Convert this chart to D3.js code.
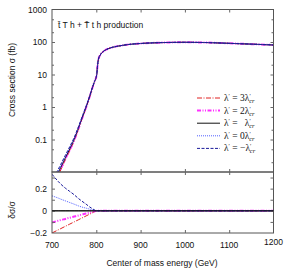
<!DOCTYPE html>
<html>
<head>
<meta charset="utf-8">
<script src="https://cdn.jsdelivr.net/npm/d3@7"></script>
<style>
  body { margin: 0; background: #fff; }
  text { font-family: "Liberation Sans", Arial, sans-serif; fill: #111; }
  .leg text { font-family: "Liberation Serif", "DejaVu Serif", serif; }
</style>
</head>
<body>
<svg id="chart" width="289" height="275"></svg>
<script>
// energie (GeV) commune aux deux panneaux
const energy = [700, 714, 720, 730, 740, 750, 760, 770, 777, 785, 790, 795, 801, 803, 805, 809, 815, 822, 832, 850, 870, 900, 950, 1000, 1050, 1100, 1150, 1200];
// section efficace pour lambda' = lambda'cr (fb)
const sigmaCr = [0.004, 0.0095, 0.014, 0.027, 0.051, 0.1, 0.23, 0.55, 1.0, 2.1, 3.5, 5.6, 10, 20, 30, 40, 50, 58, 66, 75, 83, 90, 96, 98, 96, 91, 86, 81];
// delta sigma / sigma
const d3cr  = [-0.2, -0.172, -0.16, -0.14, -0.12, -0.1, -0.08, -0.06, -0.046, -0.03, -0.02, -0.01, 0, 0, 0, 0, 0, 0, 0, 0, 0, 0, 0, 0, 0, 0, 0, 0];
const d2cr  = [-0.105, -0.09, -0.083, -0.073, -0.062, -0.052, -0.042, -0.031, -0.024, -0.016, -0.011, -0.005, 0, 0, 0, 0, 0, 0, 0, 0, 0, 0, 0, 0, 0, 0, 0, 0];
const d1cr  = [0, 0, 0, 0, 0, 0, 0, 0, 0, 0, 0, 0, 0, 0, 0, 0, 0, 0, 0, 0, 0, 0, 0, 0, 0, 0, 0, 0];
const d0cr  = [0.135, 0.115, 0.105, 0.09, 0.075, 0.06, 0.044, 0.031, 0.024, 0.015, 0.01, 0.005, 0, 0, 0, 0, 0, 0, 0, 0, 0, 0, 0, 0, 0, 0, 0, 0];
const dm1cr = [0.33, 0.265, 0.24, 0.205, 0.175, 0.145, 0.11, 0.08, 0.06, 0.035, 0.022, 0.01, 0, 0, 0, 0, 0, 0, 0, 0, 0, 0, 0, 0, 0, 0, 0, 0];

const xTicks = [700, 800, 900, 1000, 1100, 1200];
const yTopTicks = [0.1, 1, 10, 100, 1000];
const yTopLabels = ["0.1", "1", "10", "100", "1000"];
const yBotTicks = [-0.2, 0, 0.2];
const yBotLabels = ["\u22120.2", "0", "0.2"];

const series = [
  { coef: "3", delta: d3cr, color: "#e02020", dash: "5,1.5,1,1.5", w: 1 },
  { coef: "2", delta: d2cr, color: "#ff30ff", dash: "4,1.5,1,1.5,1,1.5", w: 2 },
  { coef: "\u2002", delta: d1cr, color: "#111", dash: null, w: 1 },
  { coef: "0", delta: d0cr, color: "#5060ff", dash: "1,1", w: 1 },
  { coef: "\u2212", delta: dm1cr, color: "#1a1a9a", dash: "3,1.5", w: 1 }
];

const svg = d3.select('#chart');
const L = 52, R = 273.5;
const topT = 9.5, mid = 172, bot = 233;

const x = d3.scaleLinear().domain([700, 1200]).range([L, R]);
const yTop = d3.scaleLog().domain([0.01, 1000]).range([mid, topT]);
const yBot = d3.scaleLinear().domain([-0.2, 0.35]).range([bot, mid]);

svg.append('defs').append('clipPath').attr('id', 'cTop')
  .append('rect').attr('x', L).attr('y', topT).attr('width', R - L).attr('height', mid - topT);
svg.select('defs').append('clipPath').attr('id', 'cBot')
  .append('rect').attr('x', L).attr('y', mid).attr('width', R - L).attr('height', bot - mid);

// courbes du panneau du haut
const gTop = svg.append('g').attr('clip-path', 'url(#cTop)');
series.forEach(s => {
  const pts = energy.map((e, i) => ({ x: e, y: sigmaCr[i] * (1 + s.delta[i]) }));
  gTop.append('path')
    .attr('d', d3.line().x(d => x(d.x)).y(d => yTop(d.y)).curve(d3.curveMonotoneX)(pts))
    .attr('fill', 'none').attr('stroke', s.color).attr('stroke-width', s.w)
    .attr('stroke-dasharray', s.dash);
});

// courbes du panneau du bas
const gBot = svg.append('g').attr('clip-path', 'url(#cBot)');
series.forEach(s => {
  const pts = energy.map((e, i) => ({ x: e, y: s.delta[i] }));
  gBot.append('path')
    .attr('d', d3.line().x(d => x(d.x)).y(d => yBot(d.y)).curve(d3.curveMonotoneX)(pts))
    .attr('fill', 'none').attr('stroke', s.color).attr('stroke-width', s.w)
    .attr('stroke-dasharray', s.dash);
});

// axes (ticks vers l'interieur)
const tk = 3;
function frame(y0, y1) {
  svg.append('rect').attr('x', L).attr('y', y0).attr('width', R - L).attr('height', y1 - y0)
    .attr('fill', 'none').attr('stroke', '#555').attr('stroke-width', 1);
}
frame(topT, mid);
frame(mid, bot);

const axStyle = g => g.call(g => g.select('.domain').remove())
  .call(g => g.selectAll('line').attr('stroke', '#666'))
  .call(g => g.selectAll('text').remove());

[[mid, d3.axisTop], [topT, d3.axisBottom], [bot, d3.axisTop], [mid, d3.axisBottom]].forEach(([yy, ax]) => {
  svg.append('g').attr('transform', `translate(0,${yy})`)
    .call(ax(x).tickValues(xTicks.slice(1, -1)).tickSize(tk)).call(axStyle);
});

// log ticks: decades et mineurs
const minorTop = [];
[0.01, 0.1, 1, 10, 100].forEach(d => [2, 5].forEach(m => minorTop.push(d * m)));
[[L, d3.axisRight], [R, d3.axisLeft]].forEach(([xx, ax]) => {
  svg.append('g').attr('transform', `translate(${xx},0)`)
    .call(ax(yTop).tickValues(yTopTicks.slice(0, -1)).tickSize(tk)).call(axStyle);
  svg.append('g').attr('transform', `translate(${xx},0)`)
    .call(ax(yTop).tickValues(minorTop).tickSize(2)).call(axStyle);
  svg.append('g').attr('transform', `translate(${xx},0)`)
    .call(ax(yBot).tickValues([-0.1, 0, 0.1, 0.2, 0.3]).tickSize(tk)).call(axStyle);
});

// ligne zero
svg.append('line').attr('x1', L).attr('x2', R).attr('y1', yBot(0)).attr('y2', yBot(0))
  .attr('stroke', '#111').attr('stroke-width', 1);

// etiquettes des ticks
const fs = 8.5;
svg.append('g').selectAll('text').data(yTopTicks).join('text')
  .attr('x', L - 5).attr('y', d => yTop(d) + 3).attr('text-anchor', 'end')
  .attr('font-size', fs).text((d, i) => yTopLabels[i]);
svg.append('g').selectAll('text').data(yBotTicks).join('text')
  .attr('x', L - 5).attr('y', d => yBot(d) + 3).attr('text-anchor', 'end')
  .attr('font-size', fs).text((d, i) => yBotLabels[i]);
svg.append('g').selectAll('text').data(xTicks).join('text')
  .attr('x', d => x(d)).attr('y', d => d === 1200 ? 245 : 248).attr('text-anchor', 'middle')
  .attr('font-size', fs).text(d => d);

// titres des axes
svg.append('text').attr('x', 162).attr('y', 266).attr('text-anchor', 'middle')
  .attr('font-size', fs).text('Center of mass energy (GeV)');
svg.append('text').attr('transform', 'translate(15,80) rotate(-90)').attr('text-anchor', 'middle')
  .attr('font-size', fs).text('Cross section \u03c3  (fb)');
svg.append('text').attr('transform', 'translate(15,210) rotate(-90)').attr('text-anchor', 'middle')
  .attr('font-size', fs).text('\u03b4\u03c3/\u03c3');

// titre interne
svg.append('text').attr('x', 58).attr('y', 28).attr('font-size', fs)
  .text('t\u0304 T h + T\u0304 t h production');

// legende
const leg = svg.append('g').attr('class', 'leg');
series.forEach((s, i) => {
  const yy = 98 + i * 12.6;
  leg.append('line').attr('x1', 197).attr('x2', 220).attr('y1', yy).attr('y2', yy)
    .attr('stroke', s.color).attr('stroke-width', s.w).attr('stroke-dasharray', s.dash);
  const t = leg.append('text').attr('x', 224).attr('y', yy + 3).attr('font-size', 9.5);
  t.append('tspan').text('\u03bb');
  t.append('tspan').attr('dy', -3).attr('font-size', 6).text('\u2032');
  t.append('tspan').attr('dy', 3).text(' = ' + s.coef + '\u03bb');
  t.append('tspan').attr('dy', -3).attr('font-size', 6).text('\u2032');
  t.append('tspan').attr('dy', 5).attr('font-size', 6.5).attr('font-style', 'italic').attr('dx', -1.5).text('cr');
});
</script>
</body>
</html>
